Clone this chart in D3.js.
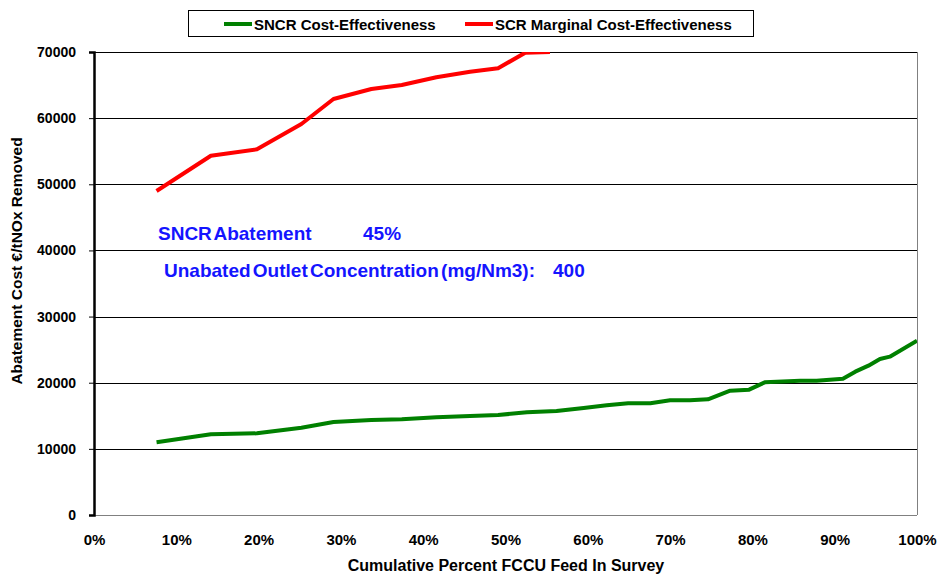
<!DOCTYPE html>
<html>
<head>
<meta charset="utf-8">
<title>SNCR vs SCR cost-effectiveness</title>
<script src="https://cdn.jsdelivr.net/npm/d3@7"></script>
<style>
  body { margin: 0; background: #fff; }
  text { font-family: "Liberation Sans", Arial, sans-serif; font-weight: bold; }
</style>
</head>
<body>
<div id="chart"></div>
<script>
// cumulative % of FCCU feed (x) and cost values
var sncrX = [7.6, 14.2, 19.8, 25.2, 29.1, 33.7, 37.4, 41.6, 45.7, 49.1, 52.6, 56.2, 59.5, 62.3, 64.9, 67.6, 70.0, 72.4, 74.6, 77.3, 79.6, 81.5, 85.8, 87.8, 91.0, 92.5, 94.1, 95.5, 96.7, 100];
var sncrCost = [10990, 12200, 12350, 13200, 14060, 14360, 14470, 14770, 14970, 15120, 15530, 15720, 16180, 16580, 16890, 16890, 17340, 17340, 17490, 18800, 18950, 20060, 20310, 20310, 20610, 21670, 22580, 23590, 23940, 26360];
var scrX = [7.6, 14.2, 19.8, 25.2, 29.1, 33.7, 37.4, 41.6, 45.7, 49.1, 52.4, 55.4];
var scrCost = [48990, 54320, 55290, 59120, 62900, 64400, 65010, 66180, 67020, 67540, 69900, 70000];
var yTicks = [0, 10000, 20000, 30000, 40000, 50000, 60000, 70000];
var xTicks = [0, 10, 20, 30, 40, 50, 60, 70, 80, 90, 100];

var W = 941, H = 576;
var margin = {top: 52, right: 24, bottom: 61, left: 94};
var width = W - margin.left - margin.right,
    height = H - margin.top - margin.bottom;

var svg = d3.select("#chart").append("svg")
    .attr("width", W)
    .attr("height", H);

var g = svg.append("g")
    .attr("transform", "translate(" + margin.left + "," + margin.top + ")");

var x = d3.scaleLinear().domain([0, 100]).range([0, width]);
var y = d3.scaleLinear().domain([0, 70000]).range([height, 0]);

// gridlines
g.selectAll(".grid").data(yTicks.filter(function(d) { return d > 0; }))
  .enter().append("line")
    .attr("x1", 0).attr("x2", width)
    .attr("y1", function(d) { return Math.round(y(d)) + 0.5; })
    .attr("y2", function(d) { return Math.round(y(d)) + 0.5; })
    .style("stroke", "#000")
    .style("stroke-width", 1);

// right and bottom frame
g.append("line").attr("x1", width + 0.5).attr("x2", width + 0.5)
  .attr("y1", 0).attr("y2", height)
  .style("stroke", "#808080");
g.append("line").attr("x1", 0).attr("x2", width)
  .attr("y1", height + 0.5).attr("y2", height + 0.5)
  .style("stroke", "#808080");

// y axis
var yAxis = g.append("g")
  .call(d3.axisLeft(y).tickValues(yTicks).tickSize(5).tickPadding(13).tickFormat(d3.format("d")));
yAxis.select(".domain").style("stroke", "#000").style("stroke-width", 2.5);
yAxis.selectAll("text").style("font-size", "14px").style("fill", "#000");

// x tick labels (no tick marks)
var xAxis = g.append("g")
  .attr("transform", "translate(0," + height + ")")
  .call(d3.axisBottom(x).tickValues(xTicks).tickSize(0).tickPadding(19)
    .tickFormat(function(d) { return d + "%"; }));
xAxis.select(".domain").remove();
xAxis.selectAll("text").style("font-size", "15px").style("fill", "#000");

// lines, clipped to plot area
g.append("clipPath").attr("id", "clip")
  .append("rect").attr("x", 0).attr("y", 0).attr("width", width).attr("height", height);

var line = d3.line()
  .x(function(d) { return x(d[0]); })
  .y(function(d) { return y(d[1]); });

g.append("path")
  .datum(d3.zip(scrX, scrCost))
  .attr("clip-path", "url(#clip)")
  .attr("d", line)
  .style("fill", "none")
  .style("stroke", "#ff0000")
  .style("stroke-width", 4)
  .style("stroke-linejoin", "round");

g.append("path")
  .datum(d3.zip(sncrX, sncrCost))
  .attr("clip-path", "url(#clip)")
  .attr("d", line)
  .style("fill", "none")
  .style("stroke", "#008000")
  .style("stroke-width", 4)
  .style("stroke-linejoin", "round");

// annotations
function note(tx, ty, s) {
  svg.append("text").attr("x", tx).attr("y", ty)
    .style("font-size", "19px").style("word-spacing", "-3px")
    .style("fill", "#1414ff").text(s);
}
note(158, 240, "SNCR Abatement");
note(363, 240, "45%");
note(164, 277, "Unabated Outlet Concentration (mg/Nm3):");
note(553, 277, "400");

// axis titles
svg.append("text")
  .attr("transform", "translate(22,261) rotate(-90)")
  .attr("text-anchor", "middle")
  .style("font-size", "15.5px")
  .text("Abatement Cost €/tNOx Removed");
svg.append("text")
  .attr("x", 506).attr("y", 571)
  .attr("text-anchor", "middle")
  .style("font-size", "16px")
  .text("Cumulative Percent FCCU Feed In Survey");

// legend
var legend = svg.append("g");
legend.append("rect")
  .attr("x", 188.5).attr("y", 10.5).attr("width", 565).attr("height", 26)
  .style("fill", "#fff").style("stroke", "#000");
var items = [
  {name: "SNCR Cost-Effectiveness", color: "#008000", x: 224},
  {name: "SCR Marginal Cost-Effectiveness", color: "#ff0000", x: 465}
];
items.forEach(function(it) {
  legend.append("line")
    .attr("x1", it.x).attr("x2", it.x + 28)
    .attr("y1", 24).attr("y2", 24)
    .style("stroke", it.color).style("stroke-width", 4);
  legend.append("text")
    .attr("x", it.x + 30).attr("y", 29.5)
    .style("font-size", "15px")
    .text(it.name);
});
</script>
</body>
</html>
